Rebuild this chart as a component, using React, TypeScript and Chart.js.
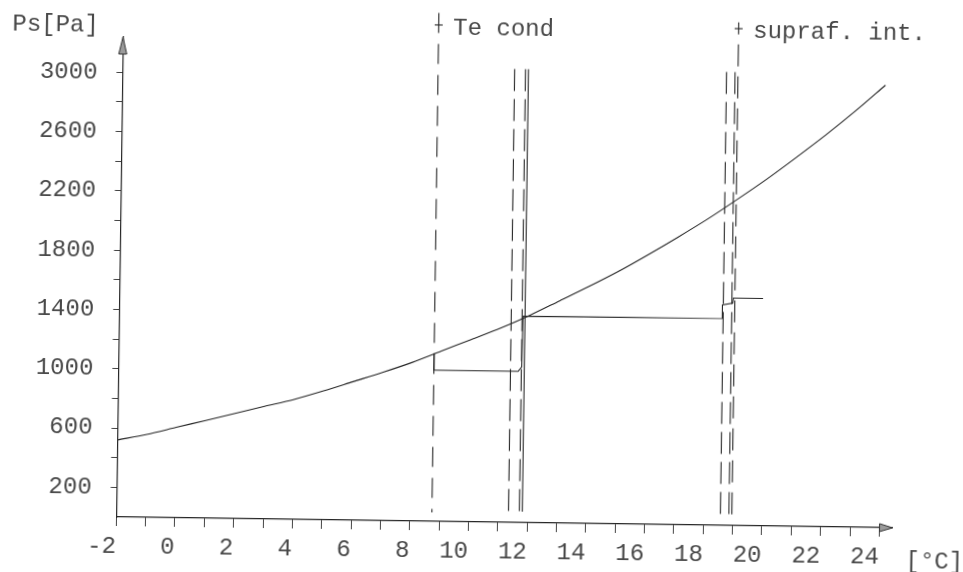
import React, { useEffect, useRef } from 'react';
import { Chart, registerables } from 'chart.js';

Chart.register(...registerables);

// Saturation pressure curve
const temps = [-2, -1, 0, 1, 2, 3, 4, 5, 6, 7, 8, 9, 10, 11, 12, 13, 14, 15, 16, 17, 18, 19, 20, 21, 22, 23, 24];
const satPressure = [520, 560, 610, 660, 710, 760, 810, 870, 935, 1000, 1070, 1150, 1230, 1310, 1400, 1500, 1600, 1705, 1820, 1940, 2065, 2200, 2340, 2490, 2645, 2810, 2985];

// Stepped partial-pressure trace
const stepTemps = [8.75, 8.75, 11.62, 11.74, 11.76, 18.55, 18.55, 18.9, 18.92, 19.93];
const stepPressures = [1135, 1020, 1020, 1050, 1392, 1396, 1487, 1500, 1535, 1535];

// Vertical marker lines (top value first, then bottom value)
const teCond = 8.75;
const teCondRange = [3430, 60];
const suprafInt = 18.97;
const suprafRange = [3395, 70];
const dashedNear12 = [11.36, 11.73];
const solidNear12 = [11.83];
const dashedNear19 = [18.58, 18.87];
const probeRange = [3060, 75];

// Axes
const xMin = -2;
const xMax = 24.45;
const yMin = 0;
const yMax = 3238;
const xTickValues = [-2, -1, 0, 1, 2, 3, 4, 5, 6, 7, 8, 9, 10, 11, 12, 13, 14, 15, 16, 17, 18, 19, 20, 21, 22, 23, 24];
const xTickLabels = [-2, 0, 2, 4, 6, 8, 10, 12, 14, 16, 18, 20, 22, 24];
const yTickValues = [200, 400, 600, 800, 1000, 1200, 1400, 1600, 1800, 2000, 2200, 2400, 2600, 2800, 3000];
const yTickLabels = [200, 600, 1000, 1400, 1800, 2200, 2600, 3000];

const yTitle = 'Ps[Pa]';
const xTitle = '[°C]';
const teCondLabel = 'Te cond';
const suprafLabel = 'supraf. int.';

const FONT = '"Liberation Mono", "DejaVu Sans Mono", monospace';
const INK = '#262626';
const TEXT = '#484848';

const vline = (x: number, range: number[], dash: number[], offset = 0) => ({
  data: [{ x, y: range[0] }, { x, y: range[1] }],
  borderColor: INK,
  borderWidth: 1.1,
  borderDash: dash,
  borderDashOffset: offset,
  pointRadius: 0,
  tension: 0,
  clip: false as const,
});

const decor = {
  id: 'decor',
  afterDraw(chart: any) {
    const { ctx, scales, chartArea } = chart;
    const xs = scales.x;
    ctx.save();
    // y arrow
    const ax = chartArea.left;
    const top = chartArea.top;
    ctx.fillStyle = '#9a9a9a';
    ctx.strokeStyle = '#333';
    ctx.lineWidth = 1;
    ctx.beginPath();
    ctx.moveTo(ax, top);
    ctx.lineTo(ax - 4, top + 17);
    ctx.lineTo(ax + 4, top + 17);
    ctx.closePath();
    ctx.fill();
    ctx.stroke();
    // x arrow
    const ay = chartArea.bottom;
    const right = chartArea.right;
    ctx.beginPath();
    ctx.moveTo(right, ay);
    ctx.lineTo(right - 13, ay - 4);
    ctx.lineTo(right - 13, ay + 4);
    ctx.closePath();
    ctx.fill();
    ctx.stroke();

    ctx.font = '24px ' + FONT;
    ctx.fillStyle = TEXT;
    ctx.textBaseline = 'alphabetic';
    ctx.textAlign = 'left';
    ctx.fillText(yTitle, 5.5, 31.5);
    ctx.fillText(xTitle, 906, 557);

    ctx.strokeStyle = INK;
    ctx.lineWidth = 1.1;
    const tx = xs.getPixelForValue(teCond);
    ctx.beginPath();
    ctx.moveTo(tx - 4, 20.5);
    ctx.lineTo(tx + 4, 20.5);
    ctx.stroke();
    ctx.fillText(teCondLabel, tx + 14.5, 30.3);

    const sx = xs.getPixelForValue(suprafInt);
    ctx.beginPath();
    ctx.moveTo(sx - 4, 20);
    ctx.lineTo(sx + 4, 20);
    ctx.stroke();
    ctx.fillText(suprafLabel, sx + 14.5, 28.5);
    ctx.restore();
  },
};

export default function App() {
  const ref = useRef<HTMLCanvasElement | null>(null);

  useEffect(() => {
    if (!ref.current) return;
    const datasets: any[] = [
      {
        data: temps.map((t, i) => ({ x: t, y: satPressure[i] })),
        borderColor: INK,
        borderWidth: 1.1,
        pointRadius: 0,
        tension: 0.3,
        clip: false,
      },
      {
        data: stepTemps.map((t, i) => ({ x: t, y: stepPressures[i] })),
        borderColor: INK,
        borderWidth: 1.1,
        pointRadius: 0,
        tension: 0,
        clip: false,
      },
      vline(teCond, teCondRange, [20, 11]),
      vline(suprafInt, suprafRange, [22, 10], 10),
      ...dashedNear12.map((v) => vline(v, probeRange, [22, 8])),
      ...solidNear12.map((v) => vline(v, probeRange, [])),
      ...dashedNear19.map((v) => vline(v, probeRange, [22, 8])),
    ];

    const chart = new Chart(ref.current, {
      type: 'line',
      data: { datasets },
      options: {
        animation: false,
        responsive: false,
        devicePixelRatio: 1,
        layout: { padding: { left: 0, right: 70.4, top: 37, bottom: 0 } },
        plugins: { legend: { display: false }, tooltip: { enabled: false } },
        scales: {
          x: {
            type: 'linear',
            min: xMin,
            max: xMax,
            afterBuildTicks: (s: any) => {
              s.ticks = xTickValues.map((v) => ({ value: v }));
            },
            afterFit: (s: any) => {
              s.height = 55;
            },
            grid: {
              drawOnChartArea: false,
              drawTicks: true,
              tickLength: 9,
              tickColor: '#444',
              lineWidth: 1,
            },
            border: { display: true, color: INK, width: 1.2 },
            ticks: {
              autoSkip: false,
              maxRotation: 0,
              align: 'end',
              padding: 6,
              color: TEXT,
              font: { family: FONT, size: 24 },
              callback: (v: any) => (xTickLabels.includes(Number(v)) ? String(v) : ''),
            },
          },
          y: {
            type: 'linear',
            min: yMin,
            max: yMax,
            afterBuildTicks: (s: any) => {
              s.ticks = yTickValues.map((v) => ({ value: v }));
            },
            afterFit: (s: any) => {
              s.width = 116.3;
            },
            grid: {
              drawOnChartArea: false,
              drawTicks: true,
              tickLength: 6,
              tickColor: '#444',
              lineWidth: 1,
            },
            border: { display: true, color: INK, width: 1.2 },
            ticks: {
              autoSkip: false,
              padding: 19,
              color: TEXT,
              font: { family: FONT, size: 24 },
              callback: (v: any) => (yTickLabels.includes(Number(v)) ? String(v) : ''),
            },
          },
        },
      },
      plugins: [decor],
    });
    return () => chart.destroy();
  }, []);

  return (
    <div
      style={{
        position: 'absolute',
        left: 0,
        top: 0,
        width: 963,
        height: 572,
        overflow: 'hidden',
        background: '#fff',
      }}
    >
      <canvas
        ref={ref}
        width={963}
        height={572}
        style={{
          position: 'absolute',
          left: 0,
          top: 0,
          width: 963,
          height: 572,
          transform: 'rotate(0.8deg)',
          transformOrigin: '116.3px 517px',
        }}
      />
    </div>
  );
}
